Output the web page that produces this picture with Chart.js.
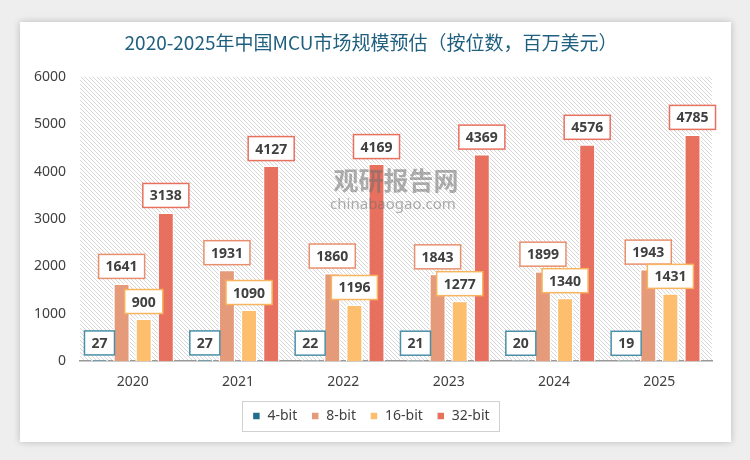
<!DOCTYPE html>
<html>
<head>
<meta charset="utf-8">
<script src="https://cdn.jsdelivr.net/npm/chart.js@4"></script>
<style>
    html, body { margin: 0; padding: 0; }
    body { width: 750px; height: 460px; background: #eeeeee; position: relative; overflow: hidden; }
    #card {
        position: absolute; left: 20px; top: 22px; width: 711px; height: 420px;
        background: #ffffff; box-shadow: 0 0 7px rgba(0, 0, 0, 0.22);
    }
    #wrap { position: absolute; left: 0; top: 0; width: 750px; height: 460px; }
</style>
</head>
<body>
<div id="card"></div>
<div id="wrap"><canvas id="mcuChart"></canvas></div>
<script>
// 年份
var years = ["2020", "2021", "2022", "2023", "2024", "2025"];
// 各位数市场规模（百万美元）
var bit4 = [27, 27, 22, 21, 20, 19];
var bit8 = [1641, 1931, 1860, 1843, 1899, 1943];
var bit16 = [900, 1090, 1196, 1277, 1340, 1431];
var bit32 = [3138, 4127, 4169, 4369, 4576, 4785];
var seriesNames = ["4-bit", "8-bit", "16-bit", "32-bit"];
var seriesColors = ["#1F6E8C", "#E59A7A", "#FDBE6E", "#E8705F"];
var labelBorders = ["#4A8FA8", "#E8906E", "#F8B45E", "#E8705F"];

// 斜线底纹
function makeHatch() {
    var c = document.createElement("canvas");
    c.width = 4; c.height = 4;
    var g = c.getContext("2d");
    g.fillStyle = "#ffffff";
    g.fillRect(0, 0, 4, 4);
    g.strokeStyle = "#d6d6d6";
    g.lineWidth = 1;
    g.beginPath();
    g.moveTo(-1, -1); g.lineTo(5, 5);
    g.stroke();
    return c;
}

var bgPlugin = {
    id: "bgPlugin",
    beforeDraw: function (chart) {
        var a = chart.chartArea, ctx = chart.ctx;
        ctx.save();
        ctx.fillStyle = ctx.createPattern(makeHatch(), "repeat");
        ctx.fillRect(a.left, a.top, a.right - a.left, a.bottom - a.top);
        ctx.restore();
    },
    afterDraw: function (chart) {
        var lg = chart.legend, ctx = chart.ctx;
        if (!lg || !lg.legendHitBoxes.length) return;
        var boxes = lg.legendHitBoxes;
        var l = boxes[0].left - 10;
        var last = boxes[boxes.length - 1];
        var r = last.left + last.width + 10;
        var cy = boxes[0].top + boxes[0].height / 2;
        ctx.save();
        ctx.strokeStyle = "#d0d0d0";
        ctx.lineWidth = 1;
        ctx.strokeRect(Math.round(l) + 0.5, Math.round(cy - 15) + 0.5, Math.round(r - l), 30);
        ctx.restore();
    }
};

// 水印 + 数据标签（带边框的白底方框）
var labelPlugin = {
    id: "labelPlugin",
    afterDatasetsDraw: function (chart) {
        var ctx = chart.ctx;
        ctx.save();
        ctx.textAlign = "center";
        ctx.textBaseline = "middle";
        ctx.fillStyle = "rgba(110,110,110,0.55)";
        ctx.font = "bold 25px 'Noto Sans CJK SC'";
        ctx.fillText("观研报告网", 396, 180);
        ctx.font = "15px 'Noto Sans'";
        ctx.fillText("chinabaogao.com", 393, 205);

        ctx.font = "bold 14px 'Noto Sans'";
        chart.data.datasets.forEach(function (ds, i) {
            var meta = chart.getDatasetMeta(i);
            meta.data.forEach(function (bar, j) {
                var txt = String(ds.data[j]);
                var w = ctx.measureText(txt).width + 14;
                var h = 24;
                var x = bar.x - w / 2;
                var y = bar.y - 5 - h;
                ctx.fillStyle = "#ffffff";
                ctx.fillRect(x, y, w, h);
                ctx.strokeStyle = labelBorders[i];
                ctx.lineWidth = 1.5;
                ctx.strokeRect(x, y, w, h);
                ctx.fillStyle = "#404040";
                ctx.fillText(txt, bar.x, y + h / 2 + 1);
            });
        });
        ctx.restore();
    }
};

document.addEventListener("DOMContentLoaded", function () {
    var ctx = document.getElementById("mcuChart").getContext("2d");
    var values = [bit4, bit8, bit16, bit32];
    new Chart(ctx, {
        type: "bar",
        data: {
            labels: years,
            datasets: seriesNames.map(function (name, i) {
                return {
                    label: name,
                    data: values[i],
                    backgroundColor: seriesColors[i],
                    borderColor: "#ffffff",
                    borderWidth: 1.5,
                    categoryPercentage: 0.84,
                    barPercentage: 0.76
                };
            })
        },
        options: {
            responsive: true,
            maintainAspectRatio: false,
            animation: false,
            layout: {
                padding: { left: 30, right: 38, top: 0, bottom: 27 }
            },
            plugins: {
                title: {
                    display: true,
                    text: "2020-2025年中国MCU市场规模预估（按位数，百万美元）",
                    color: "#1F5F7F",
                    font: { size: 19, family: "'Noto Sans CJK SC'", weight: "normal" },
                    padding: { top: 31, bottom: 23 }
                },
                legend: {
                    position: "bottom",
                    labels: {
                        boxWidth: 8,
                        boxHeight: 8,
                        padding: 14,
                        color: "#404040",
                        font: { size: 14, family: "'Noto Sans'" }
                    }
                },
                tooltip: { enabled: false }
            },
            scales: {
                x: {
                    grid: { display: false, drawTicks: false },
                    border: { display: true, color: "#999999", width: 1.5 },
                    ticks: {
                        padding: 12,
                        color: "#404040",
                        font: { size: 14, family: "'Noto Sans'" }
                    },
                    afterFit: function (scale) { scale.height -= 7; }
                },
                y: {
                    min: 0,
                    max: 6000,
                    grid: { display: false, drawTicks: false },
                    border: { display: false },
                    ticks: {
                        stepSize: 1000,
                        padding: 14,
                        color: "#404040",
                        font: { size: 14, family: "'Noto Sans'" },
                        callback: function (v) { return String(v); }
                    },
                    afterFit: function (scale) { scale.width = 50; }
                }
            }
        },
        plugins: [bgPlugin, labelPlugin]
    });
});
</script>
</body>
</html>
